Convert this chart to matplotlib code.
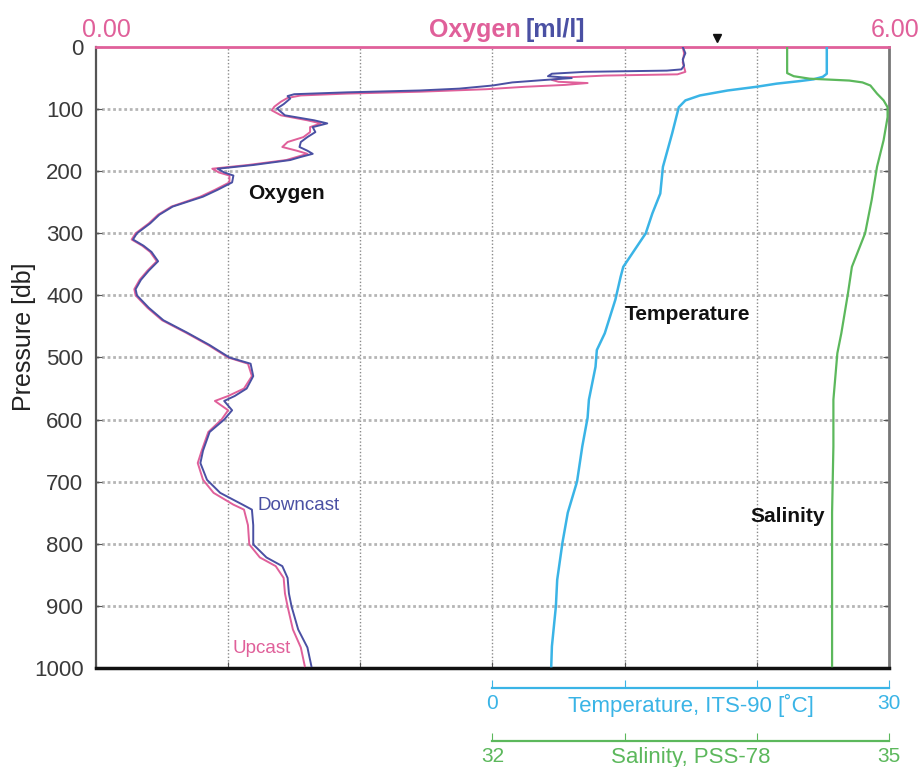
import matplotlib
matplotlib.use("Agg")
import matplotlib.pyplot as plt

plt.rcParams['font.family'] = ['Liberation Sans', 'DejaVu Sans']

# 산소 (downcast)
down_p = [0, 10, 20, 30, 36, 38, 40, 43, 47, 50, 53, 57, 62, 67, 70, 73, 76, 79, 83, 92, 99,
          110, 118, 123, 129, 137, 145, 153, 161, 167, 172, 177, 182, 190, 196, 202, 207, 218,
          230, 241, 257, 270, 284, 300, 310, 320, 330, 345, 360, 375, 390, 400, 420, 440, 460,
          480, 500, 510, 530, 550, 562, 570, 585, 600, 620, 650, 670, 697, 718, 737, 745, 770,
          801, 822, 836, 855, 880, 901, 938, 967, 997]
down_o = [4.44, 4.46, 4.44, 4.45, 4.43, 4.32, 3.70, 3.45, 3.42, 3.60, 3.40, 3.15, 3.00, 2.75,
          2.45, 1.90, 1.50, 1.45, 1.47, 1.42, 1.37, 1.43, 1.65, 1.75, 1.64, 1.66, 1.60, 1.55,
          1.54, 1.60, 1.64, 1.55, 1.47, 1.19, 0.92, 0.97, 1.04, 1.03, 0.92, 0.81, 0.58, 0.48,
          0.41, 0.31, 0.28, 0.36, 0.42, 0.47, 0.40, 0.34, 0.30, 0.31, 0.40, 0.51, 0.69, 0.86,
          1.01, 1.17, 1.19, 1.14, 1.05, 0.97, 1.03, 0.97, 0.86, 0.81, 0.79, 0.84, 0.94, 1.11,
          1.18, 1.19, 1.19, 1.29, 1.41, 1.45, 1.46, 1.48, 1.53, 1.60, 1.63]

# 산소 (upcast)
up_p = [0, 10, 25, 40, 44, 46, 49, 53, 56, 58, 61, 64, 68, 72, 75, 78, 82, 88, 96, 102,
        110, 118, 123, 129, 137, 145, 153, 161, 167, 172, 177, 182, 190, 196, 202, 207, 218,
        230, 241, 257, 270, 284, 300, 310, 320, 330, 345, 360, 375, 390, 400, 420, 440, 460,
        480, 500, 510, 530, 550, 562, 570, 585, 600, 620, 650, 670, 697, 718, 737, 745, 770,
        801, 822, 836, 855, 880, 901, 938, 967, 997]
up_o = [4.44, 4.45, 4.44, 4.46, 4.40, 3.85, 3.55, 3.45, 3.50, 3.72, 3.55, 3.25, 2.95, 2.45,
        1.90, 1.55, 1.45, 1.40, 1.35, 1.33, 1.40, 1.60, 1.70, 1.62, 1.62, 1.57, 1.45, 1.41,
        1.52, 1.60, 1.52, 1.44, 1.15, 0.88, 0.93, 1.01, 1.01, 0.90, 0.79, 0.57, 0.47, 0.40,
        0.30, 0.27, 0.35, 0.41, 0.46, 0.39, 0.33, 0.29, 0.30, 0.39, 0.50, 0.68, 0.85, 1.00,
        1.15, 1.18, 1.12, 1.00, 0.90, 1.00, 0.95, 0.85, 0.80, 0.77, 0.81, 0.89, 1.04, 1.12,
        1.15, 1.16, 1.24, 1.36, 1.42, 1.43, 1.45, 1.49, 1.55, 1.58]

# 수온
temp_p = [0, 20, 43, 48, 52, 55, 59, 64, 70, 78, 86, 97, 139, 193, 236, 268, 300, 354, 370,
          407, 461, 488, 515, 568, 597, 643, 700, 750, 798, 858, 901, 965, 997]
temp_t = [25.3, 25.3, 25.3, 25.0, 24.3, 23.2, 21.5, 20.0, 17.8, 15.7, 14.6, 14.1, 13.6, 12.9,
          12.7, 12.1, 11.6, 9.9, 9.7, 9.3, 8.5, 7.9, 7.8, 7.3, 7.2, 6.8, 6.4, 5.7, 5.3, 4.9,
          4.8, 4.5, 4.45]

# 염분
sal_p = [0, 42, 47, 51, 54, 57, 62, 75, 86, 97, 113, 150, 193, 246, 300, 354, 397, 461, 493,
         568, 643, 750, 997]
sal_s = [34.23, 34.23, 34.28, 34.40, 34.70, 34.80, 34.86, 34.91, 34.96, 34.99, 34.99, 34.96,
         34.91, 34.87, 34.82, 34.72, 34.69, 34.64, 34.61, 34.58, 34.58, 34.57, 34.57]

pink = "#e0609a"
blue = "#4a50a3"
cyan = "#3ab4e6"
green = "#5cb85c"

fig = plt.figure(figsize=(9.22, 7.67), dpi=100)
L, B, W, H = 0.1041, 0.1291, 0.860, 0.8096
ax = fig.add_axes([L, B, W, H])

ax.set_xlim(0, 6)
ax.set_ylim(1000, 0)

# 그리드
ax.set_xticks([0, 1, 2, 3, 4, 5, 6])
ax.set_yticks(range(0, 1001, 100))
for x in range(1, 6):
    ax.axvline(x, color="#8a8a8a", lw=1.0, ls=(0, (1, 1.5)), zorder=0)
for y in range(100, 1000, 100):
    ax.axhline(y, color="#b5b5b5", lw=2.0, ls=(0, (1, 1)), zorder=0)

ax.xaxis.tick_top()
ax.set_xticklabels([])
ax.tick_params(axis="x", top=False, bottom=True, direction="in", length=4, color="#555")
ax.tick_params(axis="y", left=True, right=True, direction="in", length=4, color="#555",
               labelsize=16, labelcolor="#3a3a3a", pad=9)

for side, c, w in [("top", pink, 2.0), ("bottom", "#111111", 2.5),
                   ("left", "#555555", 1.6), ("right", "#777777", 2.0)]:
    ax.spines[side].set_color(c)
    ax.spines[side].set_linewidth(w)

# 산소 프로파일
ax.plot(up_o, up_p, color=pink, lw=1.4, zorder=3)
ax.plot(down_o, down_p, color=blue, lw=1.4, zorder=4)

# 수온, 염분 (같은 축 위에 별도 스케일)
ax_t = ax.twiny()
ax_t.set_xlim(-30, 30)
ax_t.plot(temp_t, temp_p, color=cyan, lw=1.8)
ax_s = ax.twiny()
ax_s.set_xlim(29, 35)
ax_s.plot(sal_s, sal_p, color=green, lw=1.6)
for a in (ax_t, ax_s):
    a.set_ylim(1000, 0)
    a.set_xticks([])
    for sp in a.spines.values():
        sp.set_visible(False)

# 상단 라벨
ax.text(-0.018, 1.027, "0.00", transform=ax.transAxes, ha="left", va="center",
        color=pink, fontsize=18)
ax.text(1.039, 1.027, "6.00", transform=ax.transAxes, ha="right", va="center",
        color=pink, fontsize=18)
ax.text(0.535, 1.027, "Oxygen", transform=ax.transAxes, ha="right", va="center",
        color=pink, fontsize=18, fontweight="bold")
ax.text(0.542, 1.027, "[ml/l]", transform=ax.transAxes, ha="left", va="center",
        color=blue, fontsize=18, fontweight="bold")
ax.plot([4.70], [-14], marker="v", color="#111111", markersize=6, clip_on=False)

fig.text(24 / 922, 1 - 337 / 767, "Pressure [db]", rotation=90, ha="center", va="center",
         fontsize=18, color="#222222")

# 곡선 라벨
ax.text(1.15, 236, "Oxygen", fontsize=15, fontweight="bold", color="#111111", va="center")
ax.text(4.0, 430, "Temperature", fontsize=15, fontweight="bold", color="#111111", va="center")
ax.text(4.95, 756, "Salinity", fontsize=15, fontweight="bold", color="#111111", va="center")
ax.text(1.225, 739, "Downcast", fontsize=13.5, color=blue, va="center")
ax.text(1.03, 969, "Upcast", fontsize=13.5, color=pink, va="center")

# 하단 보조 축
def bottom_scale(ybot, lo, hi, ticks, labels, title, color):
    b = fig.add_axes([L + W / 2, ybot, W / 2, 0.001])
    b.set_xlim(lo, hi)
    b.set_yticks([])
    for side in ("top", "left", "right"):
        b.spines[side].set_visible(False)
    b.spines["bottom"].set_color(color)
    b.spines["bottom"].set_linewidth(1.6)
    b.set_xticks(ticks)
    b.set_xticklabels(labels)
    b.tick_params(axis="x", direction="in", length=6, color=color, labelcolor=color,
                  labelsize=15, pad=4)
    b.set_facecolor("none")
    b.annotate(title, xy=(0.5, 0), xycoords="axes fraction", xytext=(0, -4),
               textcoords="offset points", ha="center", va="top", color=color, fontsize=16)

bottom_scale(1 - 688 / 767, 0, 30, [0, 10, 20, 30], ["0", "", "", "30"],
             "Temperature, ITS-90 [˚C]", cyan)
bottom_scale(1 - 741 / 767, 32, 35, [32, 33, 34, 35], ["32", "", "", "35"],
             "Salinity, PSS-78", green)

fig.savefig("out.png", dpi=100)
